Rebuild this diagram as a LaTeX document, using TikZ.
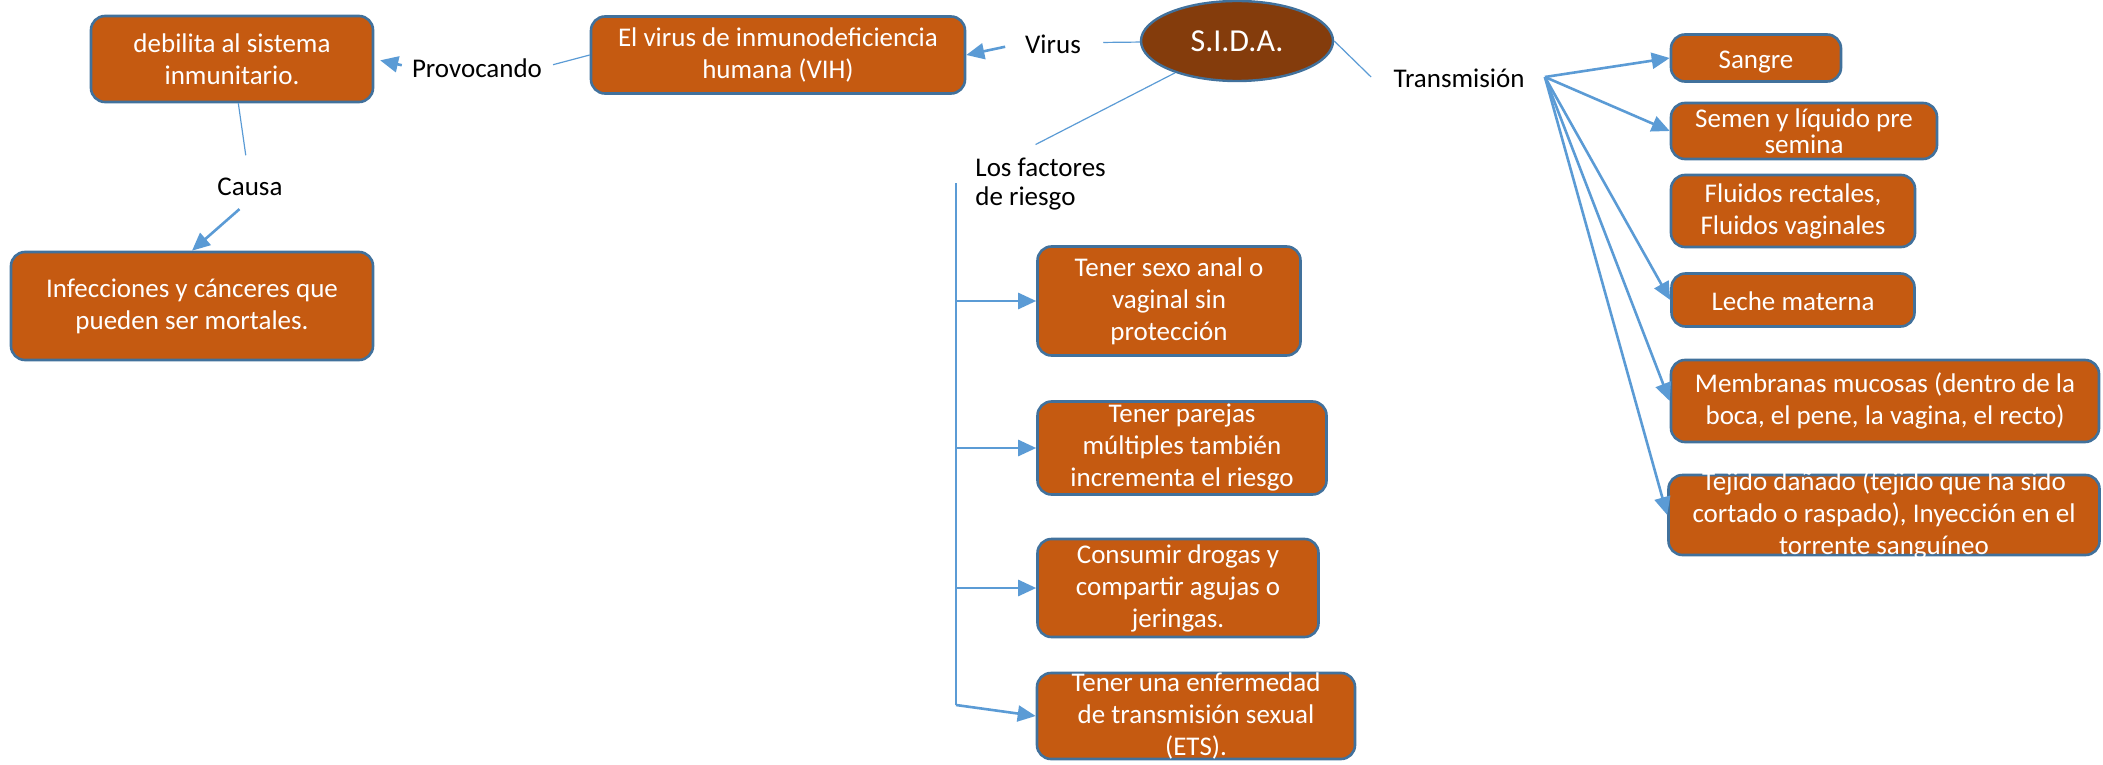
\documentclass[tikz,border=0pt]{standalone}
\usepackage{fontspec}
\setmainfont{Carlito}
\usepackage{tikz}
\usetikzlibrary{arrows.meta}
\usetikzlibrary{shapes.geometric}

\definecolor{boxfill}{HTML}{C55A11}
\definecolor{boxline}{HTML}{41719C}
\definecolor{sidafill}{HTML}{843C0C}
\definecolor{linkblue}{HTML}{5B9BD5}

\tikzset{
  box/.style={draw=boxline, line width=1.3pt, fill=boxfill, rounded corners=7pt, inner sep=0pt},
  boxtext/.style={text=white, align=center, inner sep=0pt, font=\fontsize{13.5}{16}\selectfont},
  oneline/.style={text height=11.5pt, text depth=1pt},
  lbl/.style={inner sep=1pt, font=\fontsize{13.5}{16}\selectfont},
  link/.style={draw=linkblue, line width=0.6pt},
  arr/.style={draw=linkblue, line width=1.3pt, -{Triangle[length=9pt,width=8pt]}},
}

\begin{document}
\begin{tikzpicture}[x=0.5pt,y=-0.5pt]
\useasboundingbox (0,0) rectangle (2103,765);

% left boxes
\node[box, minimum width=141pt, minimum height=43pt] (debil) at (232,59) {};
\node[boxtext] (debil-t) at (debil) {debilita al sistema\\inmunitario.};
\node[box, minimum width=187pt, minimum height=38.5pt] (vih) at (778,55) {};
\node[boxtext] (vih-t) at (vih) {El virus de inmunodeficiencia\\humana (VIH)};
\node[box, minimum width=181pt, minimum height=54pt] (infec) at (192,306) {};
\node[boxtext] (infec-t) at (infec) {Infecciones y cánceres que\\pueden ser mortales.};

% factores de riesgo
\node[box, minimum width=131.5pt, minimum height=54.5pt] (r1) at (1169,301) {};
\node[boxtext] (r1-t) at (r1) {Tener sexo anal o\\vaginal sin\\protección};
\node[box, minimum width=144.5pt, minimum height=46.5pt] (r2) at (1182,448) {};
\node[boxtext] (r2-t) at (r2) {Tener parejas\\múltiples también\\incrementa el riesgo};
\node[box, minimum width=140.5pt, minimum height=49pt] (r3) at (1178,588) {};
\node[boxtext] (r3-t) at (r3) {Consumir drogas y\\compartir agujas o\\jeringas.};
\node[box, minimum width=159pt, minimum height=43pt] (r4) at (1196,716) {};
\node[boxtext] (r4-t) at (r4) {Tener una enfermedad\\de transmisión sexual\\(ETS).};

% transmision
\node[box, minimum width=85pt, minimum height=23.5pt] (sangre) at (1756,58) {};
\node[boxtext, oneline] (sangre-t) at (sangre) {Sangre};
\node[box, minimum width=133pt, minimum height=28pt] (semen) at (1804,131) {};
\node[boxtext] (semen-t) at (semen) {Semen y líquido pre\\[-3pt]semina};
\node[box, minimum width=122pt, minimum height=36pt] (fluidos) at (1793,211) {};
\node[boxtext] (fluidos-t) at (fluidos) {Fluidos rectales,\\Fluidos vaginales};
\node[box, minimum width=121.5pt, minimum height=26.5pt] (leche) at (1793,300) {};
\node[boxtext, oneline] (leche-t) at (leche) {Leche materna};
\node[box, minimum width=214pt, minimum height=41pt] (membr) at (1885,401) {};
\node[boxtext] (membr-t) at (membr) {Membranas mucosas (dentro de la\\boca, el pene, la vagina, el recto)};
\node[box, minimum width=215.5pt, minimum height=40pt] (tejido) at (1884,515) {};
\node[boxtext] (tejido-t) at (tejido) {Tejido dañado (tejido que ha sido\\cortado o raspado), Inyección en el\\torrente sanguíneo};

\node[ellipse, draw=boxline, line width=1.2pt, fill=sidafill, minimum width=96pt, minimum height=40pt,
  inner sep=0pt, text=white, font=\fontsize{16}{19}\selectfont] (sida) at (1237,41) {S.I.D.A.};

\node[lbl, oneline] (virus) at (1053,43) {Virus};
\node[lbl, oneline] (prov) at (477,67) {Provocando};
\node[lbl, oneline] (causa) at (250,185) {Causa};
\node[lbl, oneline] (trans) at (1459,77) {Transmisión};
\node[lbl, align=left, anchor=west] (fact) at (973,184) {Los factores\\[-1.5pt]de riesgo};

% left side
\draw[link, shorten >=10pt] (sida) -- (virus);
\draw[arr, shorten <=9pt] (virus.west) -- (vih.east);
\draw[link, shorten >=4.5pt] (vih.west) -- (prov.east);
\draw[arr, shorten <=4pt, shorten >=3pt] (prov.west) -- (debil.east);
\draw[link, shorten >=7.5pt] (debil) -- (causa);
\draw[arr, shorten <=7pt] (causa.south) -- (infec.north);

% factores de riesgo
\draw[link] (sida) -- ([xshift=-2.5pt,yshift=5.5pt]fact.north);
\coordinate (bustop) at (956,183);
\coordinate (busbot) at (956,705);
\draw[link, line width=0.75pt] (bustop) -- (busbot);
\foreach \n in {r1,r2,r3}
  \draw[arr] (bustop |- \n.west) -- (\n.west);
\draw[arr] (busbot) -- (r4.west);

% transmision
\draw[link] (sida.east) -- ([xshift=-10pt]trans.west);
\coordinate (hub) at ([xshift=9pt]trans.east);
\foreach \n in {sangre,semen,leche,membr,tejido}
  \draw[arr] (hub) -- (\n.west);
\end{tikzpicture}
\end{document}
